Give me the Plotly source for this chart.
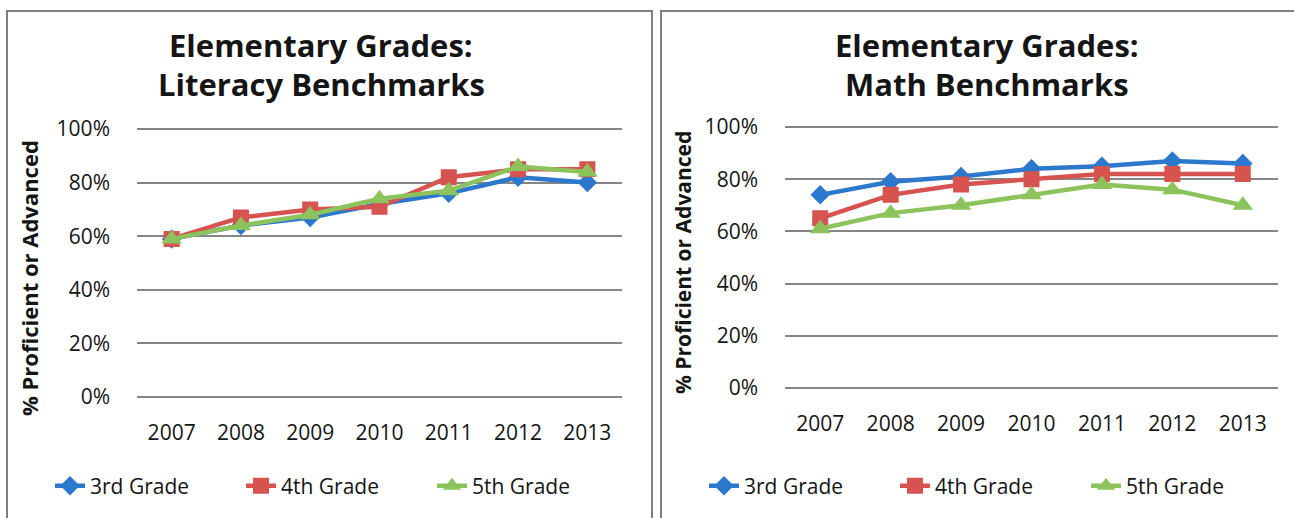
import plotly.graph_objects as go

years = ["2007", "2008", "2009", "2010", "2011", "2012", "2013"]
series_names = ["3rd Grade", "4th Grade", "5th Grade"]

lit_3rd = [0.59, 0.64, 0.67, 0.72, 0.76, 0.82, 0.80]
lit_4th = [0.59, 0.67, 0.70, 0.71, 0.82, 0.85, 0.85]
lit_5th = [0.59, 0.64, 0.68, 0.74, 0.77, 0.86, 0.84]

math_3rd = [0.74, 0.79, 0.81, 0.84, 0.85, 0.87, 0.86]
math_4th = [0.65, 0.74, 0.78, 0.80, 0.82, 0.82, 0.82]
math_5th = [0.61, 0.67, 0.70, 0.74, 0.78, 0.76, 0.70]

y_ticks = [0, 0.2, 0.4, 0.6, 0.8, 1.0]
y_tick_labels = ["0%", "20%", "40%", "60%", "80%", "100%"]

title_lines = [["Elementary Grades:", "Literacy Benchmarks"],
               ["Elementary Grades:", "Math Benchmarks"]]
y_title = "% Proficient or Advanced"

colors = ["#2B78CC", "#D65350", "#8DC35C"]
symbols = ["diamond", "square", "triangle-up"]
msizes = [15, 16, 18]

W, H = 1294, 518
FONT = "Open Sans"
TXT = "#151515"
PAD = 0.012

def px_x(x):
    return x / W

def px_y(y):
    return 1 - y / H

def ydomain(p0, p100):
    span = p0 - p100
    return [px_y(p0 + PAD * span), px_y(p100 - PAD * span)]

fig = go.Figure()

panels = [
    dict(data=[lit_3rd, lit_4th, lit_5th], xa="x", ya="y", legend="legend"),
    dict(data=[math_3rd, math_4th, math_5th], xa="x2", ya="y2", legend="legend2"),
]

for p in panels:
    for i, vals in enumerate(p["data"]):
        fig.add_trace(go.Scatter(
            x=years, y=vals, name=series_names[i], mode="lines+markers",
            line=dict(color=colors[i], width=4.5),
            marker=dict(symbol=symbols[i], size=msizes[i], color=colors[i]),
            xaxis=p["xa"], yaxis=p["ya"], legend=p["legend"],
        ))

axis_common_x = dict(
    type="category", range=[-0.5, 6.5], showgrid=False, zeroline=False,
    showline=False, ticks="", ticklabelstandoff=18, automargin=False,
    tickfont=dict(family=FONT, size=21, color=TXT),
)
axis_common_y = dict(
    range=[-PAD, 1 + PAD], tickvals=y_ticks, ticktext=y_tick_labels,
    showgrid=True, gridcolor="#858585", gridwidth=2, zeroline=False,
    showline=False, ticks="", ticklabelstandoff=26, automargin=False,
    tickfont=dict(family=FONT, size=21, color=TXT),
)

legend_common = dict(orientation="h", yanchor="middle", xanchor="left",
                     font=dict(family=FONT, size=21, color=TXT),
                     bgcolor="rgba(0,0,0,0)", tracegroupgap=0, entrywidth=146)

fig.update_layout(
    width=W, height=H,
    margin=dict(l=0, r=0, t=0, b=0, autoexpand=False),
    paper_bgcolor="white", plot_bgcolor="white",
    showlegend=True,
    xaxis=dict(domain=[px_x(137), px_x(622)], anchor="y", **axis_common_x),
    yaxis=dict(domain=ydomain(397, 129), anchor="x", **axis_common_y),
    xaxis2=dict(domain=[px_x(785), px_x(1278)], anchor="y2", **axis_common_x),
    yaxis2=dict(domain=ydomain(388, 127), anchor="x2", **axis_common_y),
    legend=dict(x=px_x(50), y=px_y(486), **legend_common),
    legend2=dict(x=px_x(704), y=px_y(486), **legend_common),
)

# panel borders
fig.add_shape(type="rect", xref="paper", yref="paper",
              x0=px_x(7), x1=px_x(652), y0=px_y(530), y1=px_y(11),
              line=dict(color="#808080", width=2))
fig.add_shape(type="rect", xref="paper", yref="paper",
              x0=px_x(661), x1=px_x(1310), y0=px_y(530), y1=px_y(11),
              line=dict(color="#808080", width=2))

# titles (two lines each)
for cx, lines in zip([321, 987], title_lines):
    for cy, t in zip([45, 84], lines):
        fig.add_annotation(text="<b>" + t + "</b>", xref="paper", yref="paper",
                           x=px_x(cx), y=px_y(cy), xanchor="center", yanchor="middle",
                           showarrow=False, font=dict(family=FONT, size=31, color=TXT))

# y-axis titles
for cx, cy, fs in [(29, 278, 22), (683, 263, 21)]:
    fig.add_annotation(text="<b>" + y_title + "</b>", xref="paper", yref="paper",
                       x=px_x(cx), y=px_y(cy), xanchor="center", yanchor="middle",
                       showarrow=False, textangle=-90,
                       font=dict(family=FONT, size=fs, color=TXT))

fig.write_html(
    "out.html",
    config={"displayModeBar": False},
    post_script="document.body.style.margin='0';document.body.style.overflow='hidden';",
)
